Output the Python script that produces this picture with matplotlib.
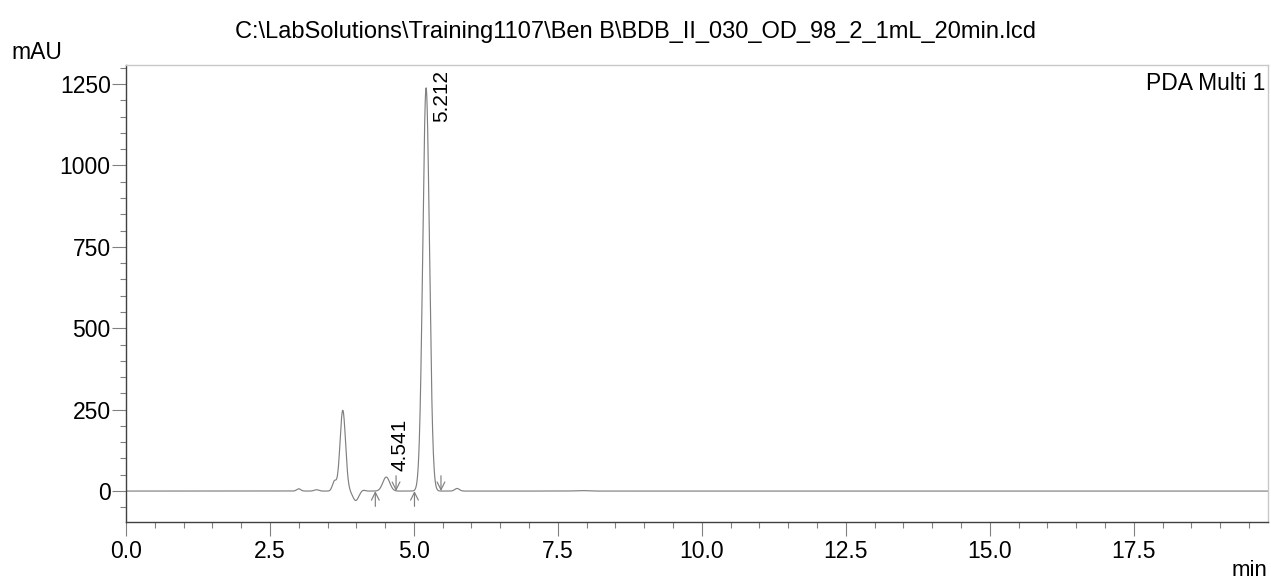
import numpy as np
import matplotlib.pyplot as plt

plt.rcParams['font.family'] = ['Liberation Sans', 'DejaVu Sans']

title = r'C:\LabSolutions\Training1107\Ben B\BDB_II_030_OD_98_2_1mL_20min.lcd'

# peaks: retention time (min), height (mAU), width sigma (min)
peak_rt = [3.00, 3.31, 3.62, 3.765, 3.99, 4.12, 4.52, 5.212, 5.75, 7.9]
peak_height = [7, 4, 30, 248, -29, 3, 43, 1238, 8, 1.5]
peak_sigma = [0.035, 0.04, 0.035, 0.048, 0.05, 0.03, 0.06, 0.058, 0.04, 0.1]

# labelled peaks
label_rt = [4.541, 5.212]
label_text = ['4.541', '5.212']

# integration marks: start (up) and end (down)
start_marks = [4.33, 5.01]
end_marks = [4.69, 5.47]

t = np.linspace(0, 19.83, 6000)
signal = np.zeros_like(t)
for rt, h, s in zip(peak_rt, peak_height, peak_sigma):
    signal += h * np.exp(-0.5 * ((t - rt) / s) ** 2)

fig = plt.figure(figsize=(12.71, 5.86), dpi=100)
ax = fig.add_axes([0.0991, 0.1092, 0.8985, 0.7798])

ax.plot(t, signal, color='#808080', lw=0.85)

ax.set_xlim(0, 19.83)
ax.set_ylim(-95, 1308)

# integration arrows
arrow_style = dict(arrowstyle='->', color='#808080', lw=0.85, mutation_scale=14,
                   shrinkA=0, shrinkB=0)
for x in start_marks:
    ax.annotate('', xy=(x, 0), xytext=(x, -47), arrowprops=arrow_style)
for x in end_marks:
    ax.annotate('', xy=(x, 0), xytext=(x, 47), arrowprops=arrow_style)

# retention time labels
ax.text(label_rt[0] + 0.22, 63, label_text[0], rotation=90, ha='center', va='bottom', fontsize=15)
ax.text(label_rt[1] + 0.265, 1292, label_text[1], rotation=90, ha='center', va='top', fontsize=15)

ax.set_xticks(np.arange(0, 19.0, 2.5))
ax.set_xticklabels([f'{v:.1f}' for v in np.arange(0, 19.0, 2.5)])
ax.set_xticks(np.arange(0, 19.83, 0.5), minor=True)
ax.set_yticks([0, 250, 500, 750, 1000, 1250])
ax.set_yticks(np.arange(-50, 1301, 50), minor=True)

ax.tick_params(axis='both', which='major', direction='out', length=10, width=0.8,
               color='#808080', labelsize=16.5)
ax.tick_params(axis='x', which='major', pad=3)
ax.tick_params(axis='y', which='major', pad=1)
ax.tick_params(axis='both', which='minor', direction='out', length=4.5, width=0.8, color='#808080')

for side in ['left', 'bottom']:
    ax.spines[side].set_color('#404040')
    ax.spines[side].set_linewidth(1.0)
for side in ['top', 'right']:
    ax.spines[side].set_color('#c8c8c8')
    ax.spines[side].set_linewidth(1.0)

ax.text(0.998, 0.985, 'PDA Multi 1', transform=ax.transAxes, ha='right', va='top', fontsize=16.5)

fig.text(0.5, 0.945, title, ha='center', va='center', fontsize=17)
fig.text(0.009, 0.91, 'mAU', ha='left', va='center', fontsize=16.5)
fig.text(0.997, 0.027, 'min', ha='right', va='center', fontsize=16)

fig.savefig('out.png', dpi=100)
